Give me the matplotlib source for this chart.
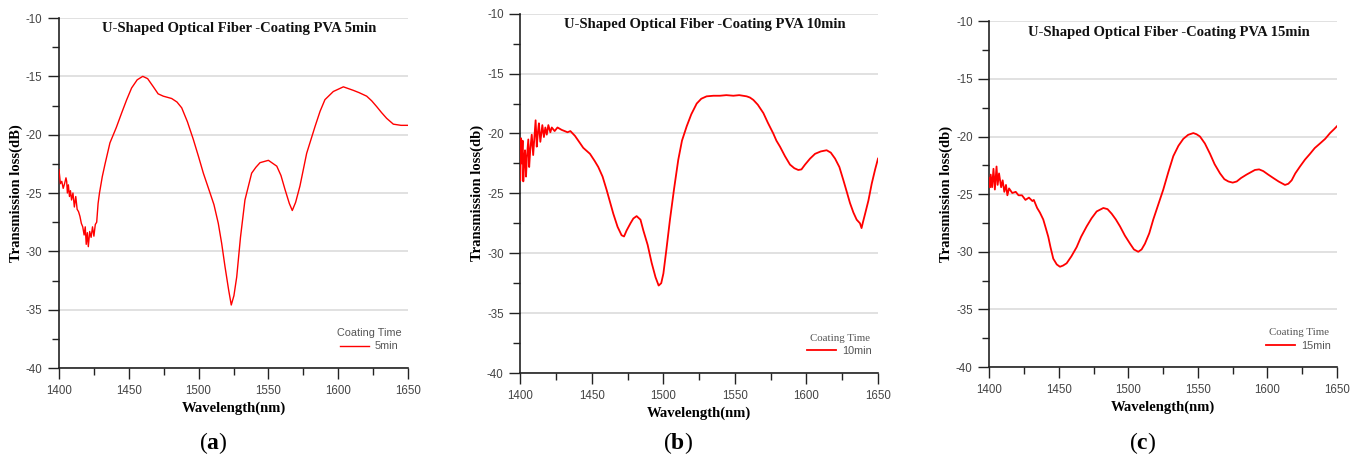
import matplotlib
matplotlib.use("Agg")
import matplotlib.pyplot as plt
from matplotlib.ticker import MultipleLocator

plt.rcParams["axes.unicode_minus"] = False
plt.rcParams["mathtext.fontset"] = "custom"
plt.rcParams["mathtext.rm"] = "Liberation Serif"
plt.rcParams["mathtext.bf"] = "Liberation Serif:bold"

# ---------------- data ----------------
wl_5 = [1400, 1401, 1402, 1403, 1404, 1405, 1405.5, 1406, 1406.7, 1407.5, 1408.2, 1409, 1410,
        1411, 1412, 1413, 1414, 1415, 1416, 1417, 1418, 1418.8, 1419.5, 1420.3, 1421, 1422,
        1423, 1424, 1425, 1426, 1427, 1428, 1429, 1431, 1433, 1436.5, 1441, 1445, 1448.5,
        1452, 1456, 1460, 1463.5, 1467.6, 1471, 1474.7, 1480.7, 1484.5, 1487.9, 1492,
        1496.2, 1500, 1503.4, 1508.2, 1511, 1514.1, 1516.5, 1518.9, 1521.5, 1523.4, 1525.3,
        1527.3, 1530, 1533.2, 1538.0, 1541, 1544, 1550, 1556, 1559, 1561.9, 1565, 1567.1,
        1569.5, 1572.6, 1575, 1577.4, 1583.4, 1587, 1590.5, 1596.5, 1603.7, 1610.8, 1615,
        1620.4, 1624, 1627.6, 1631, 1634.7, 1639.5, 1645, 1650]
tl_5 = [-23.0, -24.2, -24.0, -24.6, -24.2, -23.7, -24.0, -25.0, -24.3, -25.3, -24.8, -25.6, -25.0,
        -26.2, -25.3, -26.4, -26.6, -27.0, -27.6, -27.9, -28.6, -27.9, -29.4, -28.4, -29.6, -28.3,
        -28.8, -27.9, -28.7, -27.7, -27.5, -25.9, -25.0, -23.6, -22.5, -20.7, -19.4, -18.1, -17.0,
        -16.0, -15.3, -15.0, -15.2, -15.9, -16.5, -16.7, -16.9, -17.2, -17.7, -18.9,
        -20.4, -21.9, -23.3, -25.0, -26.0, -27.6, -29.3, -31.3, -33.3, -34.6, -33.8,
        -32.2, -28.8, -25.6, -23.3, -22.8, -22.4, -22.2, -22.7, -23.5, -24.7, -25.9, -26.5,
        -25.8, -24.4, -23.0, -21.6, -19.3, -18.0, -17.0, -16.3, -15.9, -16.2, -16.4,
        -16.7, -17.1, -17.6, -18.1, -18.6, -19.1, -19.2, -19.2]

wl_10 = [1400, 1400.5, 1401, 1401.6, 1402.1, 1402.8, 1403.3, 1404, 1404.6, 1405.6, 1406.2, 1407,
         1408, 1409, 1409.8, 1410.7, 1411.5, 1412.3, 1413, 1414, 1415.4, 1416.5, 1417.5, 1418.5,
         1419.6, 1421, 1422, 1424, 1426, 1428.9, 1431, 1433, 1435, 1438.2, 1441.7, 1444,
         1448.7, 1452, 1454.5, 1457.5, 1460.3, 1465, 1468, 1470.8, 1472.5, 1474.3, 1477, 1479,
         1481.3, 1484, 1486, 1489, 1491.8, 1494.5, 1496.7, 1498.5, 1500, 1502, 1504.6, 1507.5,
         1510.4, 1513, 1516.3, 1519.5, 1523.3, 1526.5, 1530.2, 1535, 1539.6, 1544, 1548.9,
         1553, 1558.2, 1560.5, 1562.9, 1566, 1569.9, 1573, 1576.8, 1579, 1581.5, 1585, 1588.5,
         1591.5, 1594.3, 1596.5, 1599, 1602.5, 1606, 1610, 1614.1, 1617, 1620, 1623, 1625.8,
         1628, 1630.4, 1632.8, 1635.1, 1637.4, 1638.5, 1639.5, 1641, 1643.3, 1645.6, 1648, 1650]
tl_10 = [-23.9, -20.4, -22.5, -20.6, -24.0, -21.9, -21.4, -23.6, -22.0, -20.5, -22.8, -21.3,
         -20.1, -21.8, -20.4, -18.9, -21.1, -19.9, -19.15, -20.7, -19.3, -20.3, -19.5, -20.1,
         -19.3, -19.9, -19.5, -19.8, -19.5, -19.7, -19.8, -19.9, -19.8, -20.2, -20.8, -21.2,
         -21.7, -22.3, -22.8, -23.6, -24.7, -26.7, -27.8, -28.5, -28.6, -28.1, -27.5, -27.1,
         -26.9, -27.2, -28.1, -29.3, -30.8, -32.0, -32.7, -32.5, -31.7, -29.8, -27.2, -24.6,
         -22.2, -20.6, -19.4, -18.4, -17.5, -17.1, -16.9, -16.85, -16.85, -16.8, -16.85,
         -16.8, -16.9, -17.0, -17.2, -17.6, -18.3, -19.1, -20.0, -20.6, -21.1, -21.9, -22.6,
         -22.9, -23.05, -23.0, -22.6, -22.1, -21.7, -21.5, -21.4, -21.6, -22.1, -22.8, -23.9,
         -24.8, -25.8, -26.6, -27.2, -27.5, -27.9, -27.4, -26.7, -25.6, -24.2, -23.0, -22.1]

wl_15 = [1400, 1400.5, 1401, 1402, 1403, 1404, 1405.2, 1406, 1407, 1408.5, 1409.6, 1410.8, 1412,
         1413, 1414.2, 1416.5, 1419, 1421, 1423.5, 1426, 1428.5, 1431, 1432, 1434.4, 1436.4,
         1438.8, 1440.5, 1442.4, 1444, 1446, 1448.5, 1450.8, 1453, 1455.6, 1459, 1462.8, 1466,
         1470, 1473.5, 1477.2, 1482, 1485, 1488, 1491, 1494, 1497.5, 1501.2, 1504, 1507.1,
         1509.5, 1511.9, 1515, 1517.9, 1521.5, 1525.1, 1528.7, 1532.3, 1536, 1539.5, 1543,
         1546.7, 1549, 1551.5, 1555, 1558.7, 1562, 1565.9, 1569, 1571.9, 1575, 1577.9, 1581,
         1585, 1588, 1591, 1594, 1597, 1600.5, 1604.2, 1608, 1612.6, 1615, 1617.4, 1620,
         1623.4, 1627, 1630.6, 1634, 1637.8, 1641.5, 1645, 1648, 1650]
tl_15 = [-23.6, -24.4, -23.3, -24.4, -22.8, -24.6, -22.6, -24.2, -23.2, -24.4, -23.8, -24.8, -24.2,
         -25.1, -24.5, -24.9, -24.8, -25.1, -25.1, -25.5, -25.3, -25.6, -25.5, -26.2, -26.6,
         -27.2, -27.9, -28.7, -29.6, -30.6, -31.1, -31.3, -31.2, -31.0, -30.4, -29.6, -28.7,
         -27.8, -27.1, -26.5, -26.2, -26.3, -26.7, -27.2, -27.8, -28.6, -29.3, -29.8, -30.0,
         -29.8, -29.3, -28.4, -27.2, -25.9, -24.6, -23.1, -21.7, -20.8, -20.2, -19.85,
         -19.7, -19.8, -20.0, -20.6, -21.5, -22.4, -23.2, -23.7, -23.9, -24.0, -23.9, -23.6,
         -23.3, -23.1, -22.9, -22.85, -23.0, -23.3, -23.6, -23.9, -24.2, -24.1, -23.8, -23.2,
         -22.6, -22.0, -21.5, -21.0, -20.6, -20.2, -19.7, -19.35, -19.1]

series_labels = ["5min", "10min", "15min"]
titles = ["U-Shaped Optical Fiber -Coating PVA 5min",
          "U-Shaped Optical Fiber -Coating PVA 10min",
          "U-Shaped Optical Fiber -Coating PVA 15min"]
ylabels = ["Transmission loss(dB)", "Transmission loss(db)", "Transmission loss(db)"]
xlabel = "Wavelength(nm)"
panel_letters = ["a", "b", "c"]
legend_title = "Coating Time"

# ---------------- layout ----------------
W, H = 1363, 461
fig = plt.figure(figsize=(W / 100, H / 100), dpi=100)

# axes pixel boxes: left, right, top, bottom
boxes = [(59, 408, 18, 368), (520.3, 878, 13.7, 373), (989.3, 1337, 21.3, 367)]
letter_x = [213, 678, 1143]
legend_title_fonts = [["Liberation Sans"], ["Liberation Serif"], ["Liberation Serif"]]
lws = [1.0, 1.3, 1.3]

data = [(wl_5, tl_5), (wl_10, tl_10), (wl_15, tl_15)]
serif = "Liberation Serif"
tickcol = "#444444"

for i, ((l, r, t, b), (x, y)) in enumerate(zip(boxes, data)):
    ax = fig.add_axes([l / W, 1 - b / H, (r - l) / W, (b - t) / H])
    ax.plot(x, y, color="#ff0000", lw=lws[i], label=series_labels[i], zorder=3)
    ax.set_xlim(1400, 1650)
    ax.set_ylim(-40, -10)
    ax.xaxis.set_major_locator(MultipleLocator(50))
    ax.xaxis.set_minor_locator(MultipleLocator(25))
    ax.yaxis.set_major_locator(MultipleLocator(5))
    ax.yaxis.set_minor_locator(MultipleLocator(2.5))
    for s in ["top", "right"]:
        ax.spines[s].set_visible(False)
    for s in ["left", "bottom"]:
        ax.spines[s].set_linewidth(1.2)
        ax.spines[s].set_color("#222222")
    ax.tick_params(which="major", direction="out", length=8, width=1.0,
                   color="#222222", labelsize=8.3, labelcolor=tickcol, pad=4)
    ax.tick_params(which="minor", direction="out", length=5, width=1.0, color="#222222")
    for lab in ax.get_xticklabels() + ax.get_yticklabels():
        lab.set_fontfamily("Liberation Sans")
    ax.grid(axis="y", which="major", color="#dcdcdc", lw=1.2, zorder=0)
    ax.set_axisbelow(True)

    ax.text(0.516, 0.969, titles[i], transform=ax.transAxes, ha="center", va="center",
            fontsize=10.5, fontweight="bold", family=serif, color="#111111")
    ax.set_xlabel(xlabel, fontsize=10.5, fontweight="bold", family=serif)
    ax.set_ylabel(ylabels[i], fontsize=10.5, fontweight="bold", family=serif)
    axw, axh = (r - l), (b - t)
    ax.xaxis.set_label_coords(0.5, -40 / axh)
    ax.xaxis.label.set_va("center")
    ax.yaxis.set_label_coords(-43 / axw, 0.5)
    ax.yaxis.label.set_va("center")

    leg = ax.legend(title=legend_title, loc="lower right", bbox_to_anchor=(0.995, 0.035),
                    frameon=False, handlelength=2.6, handletextpad=0.6,
                    prop={"family": "Liberation Sans", "size": 7.8},
                    title_fontproperties={"family": legend_title_fonts[i], "size": 7.8},
                    borderaxespad=0, labelspacing=0.3)
    leg.get_title().set_color("#555555")
    for txt in leg.get_texts():
        txt.set_color("#555555")

    fig.text(letter_x[i] / W, 1 - 443 / H, r"($\mathbf{%s}$)" % panel_letters[i],
             ha="center", va="center", fontsize=17, family=serif)

fig.savefig("out.png", dpi=100)
